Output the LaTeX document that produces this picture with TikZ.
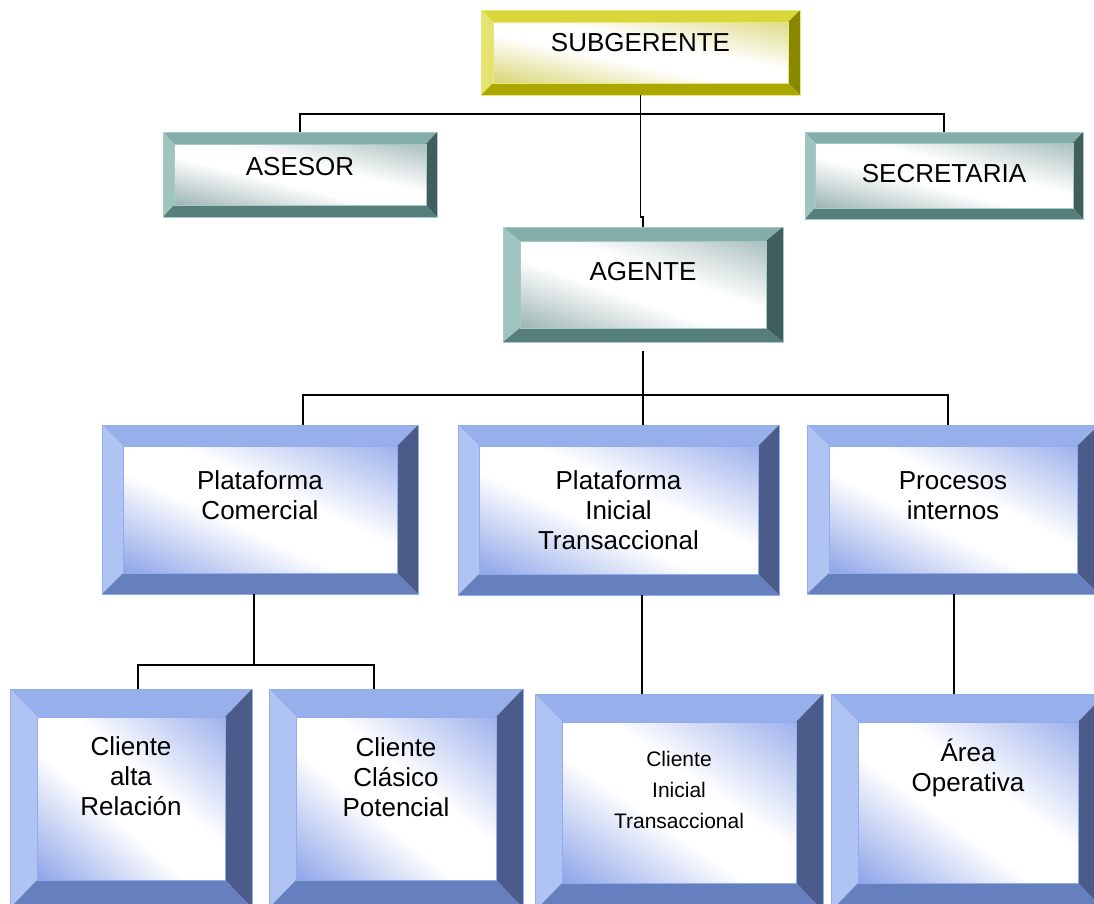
\documentclass[tikz,border=0pt]{standalone}
\usepackage{fontspec}
\setmainfont{Liberation Sans}
\usetikzlibrary{fit}
% yellow palette
\definecolor{Ytop}{HTML}{D9D63A}
\definecolor{Yleft}{HTML}{E4E270}
\definecolor{Yright}{HTML}{8A8800}
\definecolor{Ybot}{HTML}{ABA700}
\definecolor{Yin}{HTML}{D8D572}
\definecolor{Yedge}{HTML}{E9E77E}
% teal palette
\definecolor{Ttop}{HTML}{84ADA9}
\definecolor{Tleft}{HTML}{A0C5C1}
\definecolor{Tright}{HTML}{3F5E5C}
\definecolor{Tbot}{HTML}{567E7B}
\definecolor{Tin}{HTML}{9BB4B2}
\definecolor{Tedge}{HTML}{A6C9C5}
% blue palette
\definecolor{Btop}{HTML}{97AFEB}
\definecolor{Bleft}{HTML}{B0C4F3}
\definecolor{Bright}{HTML}{4B5C8B}
\definecolor{Bbot}{HTML}{6680BF}
\definecolor{Bin}{HTML}{8CA3E8}
\definecolor{Bedge}{HTML}{93ACEE}
\pgfdeclarehorizontalshading{Yshade}{100bp}{color(0bp)=(Yin); color(25bp)=(Yin); color(45bp)=(white); color(55bp)=(white); color(75bp)=(Yin!85!white); color(100bp)=(Yin!85!white)}
\pgfdeclarehorizontalshading{Tshade}{100bp}{color(0bp)=(Tin); color(25bp)=(Tin); color(45bp)=(white); color(55bp)=(white); color(75bp)=(Tin!85!white); color(100bp)=(Tin!85!white)}
\pgfdeclarehorizontalshading{Bshade}{100bp}{color(0bp)=(Bin); color(25bp)=(Bin); color(45bp)=(white); color(55bp)=(white); color(75bp)=(Bin!85!white); color(100bp)=(Bin!85!white)}
% #1 name, #2 palette, #3 x1, #4 y1, #5 x2, #6 y2, #7 side bevel, #8 top/bottom bevel
\newcommand\bevbox[8]{%
  \fill[#2top] (#3,#4) -- (#5,#4) -- (#5-#7,#4+#8) -- (#3+#7,#4+#8) -- cycle;
  \fill[#2left] (#3,#4) -- (#3+#7,#4+#8) -- (#3+#7,#6-#8) -- (#3,#6) -- cycle;
  \fill[#2right] (#5,#4) -- (#5,#6) -- (#5-#7,#6-#8) -- (#5-#7,#4+#8) -- cycle;
  \fill[#2bot] (#3,#6) -- (#5,#6) -- (#5-#7,#6-#8) -- (#3+#7,#6-#8) -- cycle;
  \begin{scope}
    \clip (#3+#7,#4+#8) rectangle (#5-#7,#6-#8);
    \pgfmathsetmacro\bwa{(#5-#3-2*#7)/50}%
    \pgfmathsetmacro\bwc{(#5-#3-2*#7)/80}%
    \pgfmathsetmacro\bhb{(#6-#4-2*#8)/50}%
    \pgfmathsetmacro\bhd{-(#6-#4-2*#8)/80}%
    \pgfmathsetmacro\bcx{(#3+#5)/2}%
    \pgfmathsetmacro\bcy{-(#4+#6)/2}%
    \pgftransformcm{\bwa}{\bhb}{\bwc}{\bhd}{\pgfpoint{\bcx pt}{\bcy pt}}%
    \pgflowlevelsynccm
    \pgfuseshading{#2shade}%
  \end{scope}
  \draw[#2edge, line width=0.8pt] (#3,#4) rectangle (#5,#6) (#3+#7,#4+#8) rectangle (#5-#7,#6-#8);
  \node[fit={(#3,#4) (#5,#6)}, inner sep=0pt] (#1) {};
}
\tikzset{
  lbl/.style={align=center, inner sep=0pt, font=\fontsize{26}{30}\selectfont},
  lblsmall/.style={align=center, inner sep=0pt, font=\fontsize{21}{31}\selectfont},
  conn/.style={draw=black, line width=1.6pt}
}
\begin{document}
\begin{tikzpicture}[x=1pt,y=-1pt]
\useasboundingbox[fill=white] (0,0) rectangle (1094,903);
% boxes
\bevbox{sub}{Y}{481}{10}{800}{95}{12}{12}
\bevbox{asesor}{T}{163}{132}{437}{217}{11}{12}
\bevbox{secre}{T}{805}{132}{1083}{219}{10}{11}
\bevbox{agente}{T}{503}{227}{783}{342}{17}{14}
\bevbox{pc}{B}{102}{425}{418}{594}{21}{21}
\bevbox{pi}{B}{458}{425}{779}{595}{21}{21}
\bevbox{pp}{B}{807}{425}{1099}{594}{22}{21}
\bevbox{c1}{B}{10}{689}{252}{908}{27}{28}
\bevbox{c2}{B}{269}{689}{523}{908}{27}{28}
\bevbox{c3}{B}{535}{694}{823}{911}{27}{28}
\bevbox{c4}{B}{831}{694}{1105}{911}{27}{28}
% connectors
\draw[conn] (sub.south) -- (sub.south |- 0,217) -| (agente.north);
\draw[conn] (asesor.north) -- ++(0,-18) -| (secre.north);
\coordinate (j2) at (643,395);
\draw[conn] ([yshift=-9pt]agente.south) -- (agente.south |- pi.north);
\draw[conn] (pc.north -| 303,0) |- (j2) -| (pp.north -| 948,0);
\coordinate (j1) at (254,665);
\draw[conn] (pc.south -| j1) -- (j1);
\draw[conn] (c1.north -| 138,0) |- (j1) -| (c2.north -| 374,0);
\draw[conn] (pi.south -| 642,0) -- (c3.north -| 642,0);
\draw[conn] (pp.south -| 954,0) -- (c4.north -| 954,0);
% labels
\node[lbl] (tsub) at (sub.center |- 0,43) {SUBGERENTE};
\node[lbl] (tasesor) at (asesor.center |- 0,167) {ASESOR};
\node[lbl] (tsecre) at (secre.center |- 0,174) {SECRETARIA};
\node[lbl] (tagente) at (agente.center |- 0,272) {AGENTE};
\node[lbl] (tpc) at (pc.center |- 0,495) {Plataforma\\Comercial};
\node[lbl] (tpi) at (pi.center |- 0,510) {Plataforma\\Inicial\\Transaccional};
\node[lbl] (tpp) at (pp.center |- 0,496) {Procesos\\internos};
\node[lbl] (tc1) at (c1.center |- 0,776) {Cliente\\alta\\Relación};
\node[lbl] (tc2) at (c2.center |- 0,777) {Cliente\\Clásico\\Potencial};
\node[lblsmall] (tc3) at (c3.center |- 0,790) {Cliente\\Inicial\\Transaccional};
\node[lbl] (tc4) at (c4.center |- 0,768) {Área\\Operativa};
\end{tikzpicture}
\end{document}
